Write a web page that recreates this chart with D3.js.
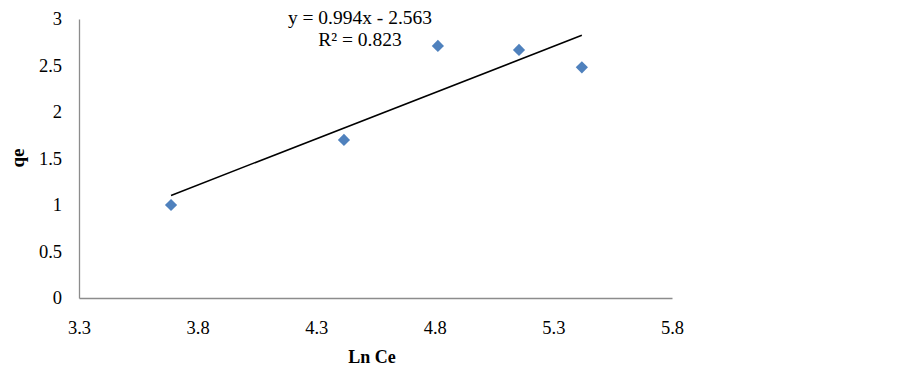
<!DOCTYPE html>
<html><head><meta charset="utf-8">
<script src="https://cdn.jsdelivr.net/npm/d3@7"></script>
<style>body{margin:0;background:#fff;} svg{display:block;}</style>
</head><body>
<script>
const lnCe = [3.688, 4.417, 4.813, 5.155, 5.42];
const qe = [1.0, 1.70, 2.71, 2.667, 2.48];
const xTicks = [3.3, 3.8, 4.3, 4.8, 5.3, 5.8];
const yTicks = [0, 0.5, 1, 1.5, 2, 2.5, 3];
const slope = 0.994, intercept = -2.563;
const eqLines = ["y = 0.994x - 2.563", "R² = 0.823"];

const W = 902, H = 371;
const svg = d3.select("body").append("svg").attr("width", W).attr("height", H);
const x = d3.scaleLinear().domain([3.3, 5.8]).range([79, 672]);
const y = d3.scaleLinear().domain([0, 3]).range([298, 19]);
const font = "'Liberation Serif','Times New Roman',serif";

const xAxis = svg.append("g").attr("transform", `translate(0,${y(0)})`)
  .call(d3.axisBottom(x).tickValues(xTicks).tickSize(0).tickPadding(23).tickFormat(d3.format(".1f")));
const yAxis = svg.append("g").attr("transform", `translate(${x(3.3)},0)`)
  .call(d3.axisLeft(y).tickValues(yTicks).tickSize(0).tickPadding(17).tickFormat(d => String(d)));
[xAxis, yAxis].forEach(g => {
  g.attr("font-family", font);
  g.select(".domain").attr("stroke", "#8c8c8c").attr("stroke-width", 1.3);
  g.selectAll("text").attr("font-family", font).attr("font-size", 18.5).attr("fill", "#000");
});

// trendline
const xs = d3.extent(lnCe);
svg.append("line")
  .attr("x1", x(xs[0])).attr("y1", y(slope * xs[0] + intercept))
  .attr("x2", x(xs[1])).attr("y2", y(slope * xs[1] + intercept))
  .attr("stroke", "#000").attr("stroke-width", 1.5);

// points
svg.append("g").selectAll("path").data(lnCe.map((v, i) => [v, qe[i]])).join("path")
  .attr("d", d3.symbol(d3.symbolDiamond2, 95)())
  .attr("transform", d => `translate(${x(d[0])},${y(d[1])})`)
  .attr("fill", "#4f81bd");

// equation
svg.append("g").selectAll("text").data(eqLines).join("text")
  .attr("x", 360).attr("y", (d, i) => 24 + i * 22)
  .attr("text-anchor", "middle").attr("font-family", font).attr("font-size", 19.5)
  .text(d => d);

// axis titles
svg.append("text").attr("x", 372).attr("y", 363).attr("text-anchor", "middle")
  .attr("font-family", font).attr("font-size", 18).attr("font-weight", "bold").text("Ln Ce");
svg.append("text").attr("transform", "translate(24,158) rotate(-90)").attr("text-anchor", "middle")
  .attr("font-family", font).attr("font-size", 19).attr("font-weight", "bold").text("qe");
</script>
</body></html>
